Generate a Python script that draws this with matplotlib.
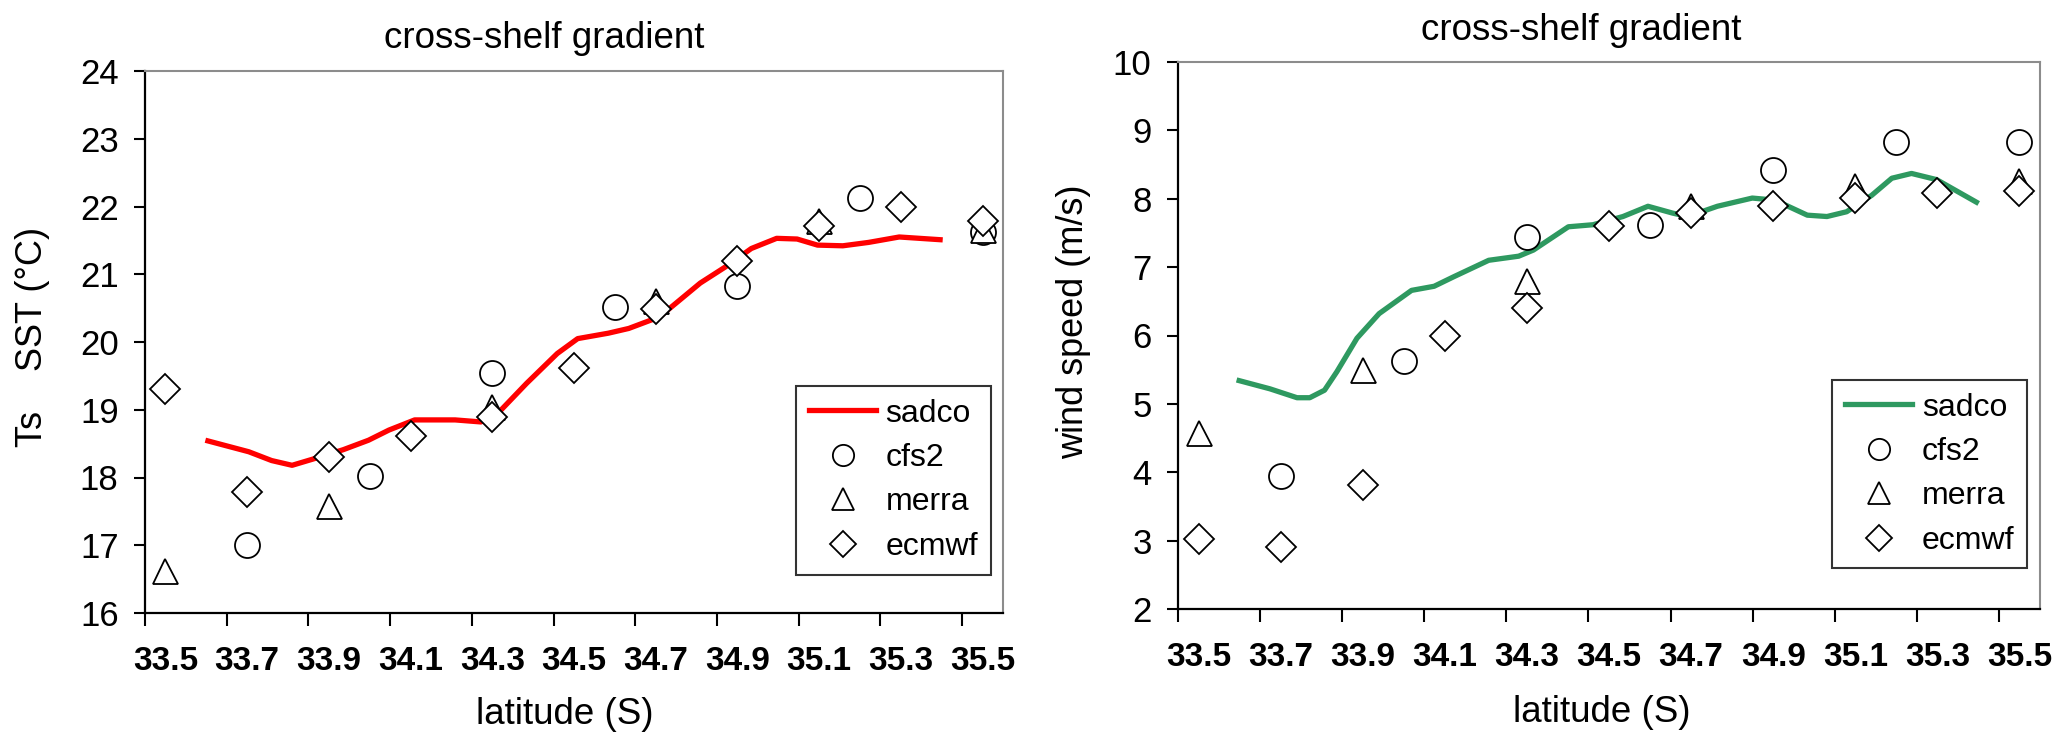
import matplotlib
matplotlib.use("Agg")
import matplotlib.pyplot as plt

plt.rcParams['font.family'] = ['Liberation Sans', 'DejaVu Sans']

# x positions of the symbols (latitude, deg S)
lat_ecmwf = [33.5, 33.7, 33.9, 34.1, 34.3, 34.5, 34.7, 34.9, 35.1, 35.3, 35.5]
lat_merra = [33.5, 33.9, 34.3, 34.7, 35.1, 35.5]
lat_cfs2 = [33.7, 34.0, 34.3, 34.6, 34.9, 35.2, 35.5]

# left panel: SST
sst_ecmwf = [19.31, 17.79, 18.30, 18.61, 18.89, 19.62, 20.48, 21.20, 21.71, 21.99, 21.79]
sst_merra = [16.62, 17.58, 19.04, 20.60, 21.78, 21.66]
sst_cfs2 = [17.01, 18.02, 19.54, 20.52, 20.82, 22.13, 21.62]
sst_sadco_lat = [33.604, 33.704, 33.760, 33.810, 33.860, 33.935, 33.997, 34.047, 34.110,
                 34.209, 34.272, 34.322, 34.384, 34.459, 34.509, 34.584, 34.634, 34.709,
                 34.759, 34.809, 34.871, 34.934, 34.996, 35.046, 35.096, 35.158, 35.221,
                 35.296, 35.396]
sst_sadco = [18.54, 18.38, 18.25, 18.18, 18.27, 18.41, 18.55, 18.70, 18.85,
             18.85, 18.82, 19.00, 19.39, 19.83, 20.05, 20.13, 20.20, 20.37,
             20.62, 20.87, 21.11, 21.38, 21.53, 21.52, 21.43, 21.42, 21.47,
             21.55, 21.51]

# right panel: wind speed
wind_ecmwf = [3.02, 2.91, 3.81, 6.00, 6.40, 7.60, 7.79, 7.90, 8.01, 8.09, 8.11]
wind_merra = [4.57, 5.49, 6.80, 7.89, 8.18, 8.26]
wind_cfs2 = [3.94, 5.63, 7.44, 7.62, 8.42, 8.83, 8.83]
wind_sadco_lat = [33.599, 33.674, 33.740, 33.771, 33.807, 33.837, 33.886, 33.940, 34.019,
                  34.074, 34.122, 34.207, 34.280, 34.316, 34.401, 34.461, 34.534, 34.595,
                  34.655, 34.692, 34.764, 34.849, 34.904, 34.983, 35.031, 35.079, 35.140,
                  35.189, 35.237, 35.298, 35.395]
wind_sadco = [5.34, 5.22, 5.09, 5.09, 5.20, 5.47, 5.96, 6.32, 6.66,
              6.72, 6.86, 7.10, 7.16, 7.25, 7.59, 7.62, 7.74, 7.89,
              7.79, 7.74, 7.89, 8.01, 7.98, 7.76, 7.74, 7.81, 8.05,
              8.30, 8.37, 8.28, 7.95]

xtick_labels = ['33.5', '33.7', '33.9', '34.1', '34.3', '34.5', '34.7', '34.9', '35.1', '35.3', '35.5']
xtick_pos = [float(s) for s in xtick_labels]
xtick_edges = [33.45 + 0.2 * k for k in range(11)]

fig = plt.figure(figsize=(20.67, 7.52), dpi=100)
ax1 = fig.add_axes([145 / 2067, 1 - 613 / 752, 858 / 2067, 542 / 752])
ax2 = fig.add_axes([1178 / 2067, 1 - 609 / 752, 862 / 2067, 547 / 752])


def style(ax, sadco_x, sadco_y, color, cfs, merra, ecmwf, ylim):
    ax.plot(sadco_x, sadco_y, color=color, lw=3.8, label='sadco', zorder=2)
    mk = dict(ls='none', mfc='white', mec='black', mew=1.3, zorder=3)
    ax.plot(lat_cfs2, cfs, marker='o', ms=18, label='cfs2', **mk)
    ax.plot(lat_merra, merra, marker='^', ms=18, label='merra', **mk)
    ax.plot(lat_ecmwf, ecmwf, marker='D', ms=15, label='ecmwf', **mk)

    ax.set_xlim(33.45, 35.55)
    ax.set_ylim(*ylim)
    ax.set_yticks(range(ylim[0], ylim[1] + 1))
    ax.tick_params(axis='y', direction='out', length=8, width=1.5, pad=11,
                   labelsize=25, right=False)
    # labels sit between the tick marks
    ax.set_xticks(xtick_pos)
    ax.set_xticklabels(xtick_labels, fontweight='bold', fontsize=24)
    ax.set_xticks(xtick_edges, minor=True)
    ax.tick_params(axis='x', which='major', length=0, pad=24)
    ax.tick_params(axis='x', which='minor', direction='out', length=9, width=1.5)

    for s in ['left', 'bottom']:
        ax.spines[s].set_linewidth(1.6)
        ax.spines[s].set_color('black')
    for s in ['top', 'right']:
        ax.spines[s].set_linewidth(1.5)
        ax.spines[s].set_color('#8c8c8c')

    leg = ax.legend(loc='upper left', bbox_to_anchor=(0.759, 0.419), fontsize=23,
                    frameon=True, fancybox=False, edgecolor='black',
                    handlelength=2.1, handletextpad=0.3, labelspacing=0.45,
                    borderpad=0.4, borderaxespad=0, markerscale=0.85)
    leg.get_frame().set_linewidth(1.5)


style(ax1, sst_sadco_lat, sst_sadco, '#ff0000', sst_cfs2, sst_merra, sst_ecmwf, (16, 24))
style(ax2, wind_sadco_lat, wind_sadco, '#2e9960', wind_cfs2, wind_merra, wind_ecmwf, (2, 10))

# titles and axis labels placed like the original
fig.text(544 / 2067, 1 - 38 / 752, 'cross-shelf gradient', fontsize=26.5, ha='center', va='center')
fig.text(1581 / 2067, 1 - 30 / 752, 'cross-shelf gradient', fontsize=26.5, ha='center', va='center')
fig.text(565 / 2067, 1 - 715 / 752, 'latitude (S)', fontsize=26.5, ha='center', va='center')
fig.text(1602 / 2067, 1 - 712 / 752, 'latitude (S)', fontsize=26.5, ha='center', va='center')
fig.text(33 / 2067, 1 - 337 / 752, 'Ts    SST (°C)', fontsize=26, rotation=90, ha='center', va='center')
fig.text(1074 / 2067, 1 - 322 / 752, 'wind speed (m/s)', fontsize=26, rotation=90, ha='center', va='center')

fig.savefig('out.png', dpi=100)
